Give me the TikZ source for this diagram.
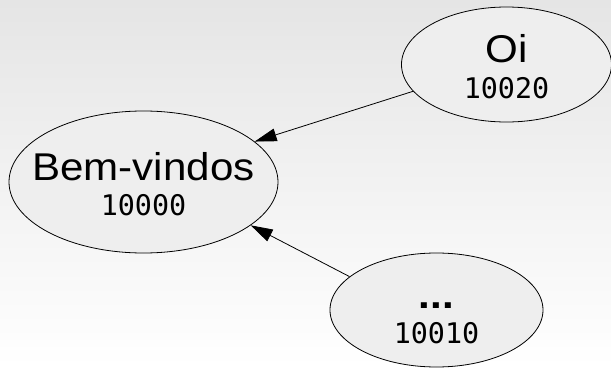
\documentclass[tikz,border=0pt]{standalone}
\usepackage{fontspec}
\usetikzlibrary{shapes.geometric,arrows.meta}
\newfontfamily\labelfont{Liberation Sans}[FakeStretch=1.088]
\newfontfamily\numfont{DejaVu Sans Mono}
\definecolor{bgtop}{RGB}{229,229,229}
\definecolor{bgbottom}{RGB}{255,255,255}
\definecolor{nodefill}{RGB}{238,238,238}
\newcommand{\pagetitle}[1]{{\labelfont\fontsize{38.7}{35.5}\selectfont\rule{0pt}{32pt}#1}}
\newcommand{\pagenum}[1]{{\numfont\fontsize{28.4}{35.5}\selectfont #1}}
\tikzset{
  pagenode/.style={ellipse,draw=black,fill=nodefill,line width=0.8pt,inner sep=-20pt,align=center,font=\fontsize{30}{35.5}\selectfont},
  linkarrow/.style={black,line width=0.8pt,-{Triangle[length=22pt,width=13pt]}}
}

\begin{document}
\begin{tikzpicture}[x=1pt,y=1pt]
    \shade[top color=bgtop,bottom color=bgbottom] (0,0) rectangle (611,368);
    \useasboundingbox (0,0) rectangle (611,368);
    \node[pagenode,minimum width=269pt,minimum height=142pt] (bem) at (143.5,186) {\pagetitle{Bem-vindos}\\\pagenum{10000}};
    \node[pagenode,minimum width=210pt,minimum height=115pt] (oi) at (506.5,303.5) {\pagetitle{Oi}\\\pagenum{10020}};
    \node[pagenode,minimum width=213pt,minimum height=114pt] (dots) at (436.5,58) {\pagetitle{\bfseries...}\\\pagenum{10010}};
    % links point to the start page
    \draw[linkarrow] (oi.196) -- (bem.20);
    \draw[linkarrow] (dots.159) -- (bem.-22);
  \end{tikzpicture}
\end{document}
